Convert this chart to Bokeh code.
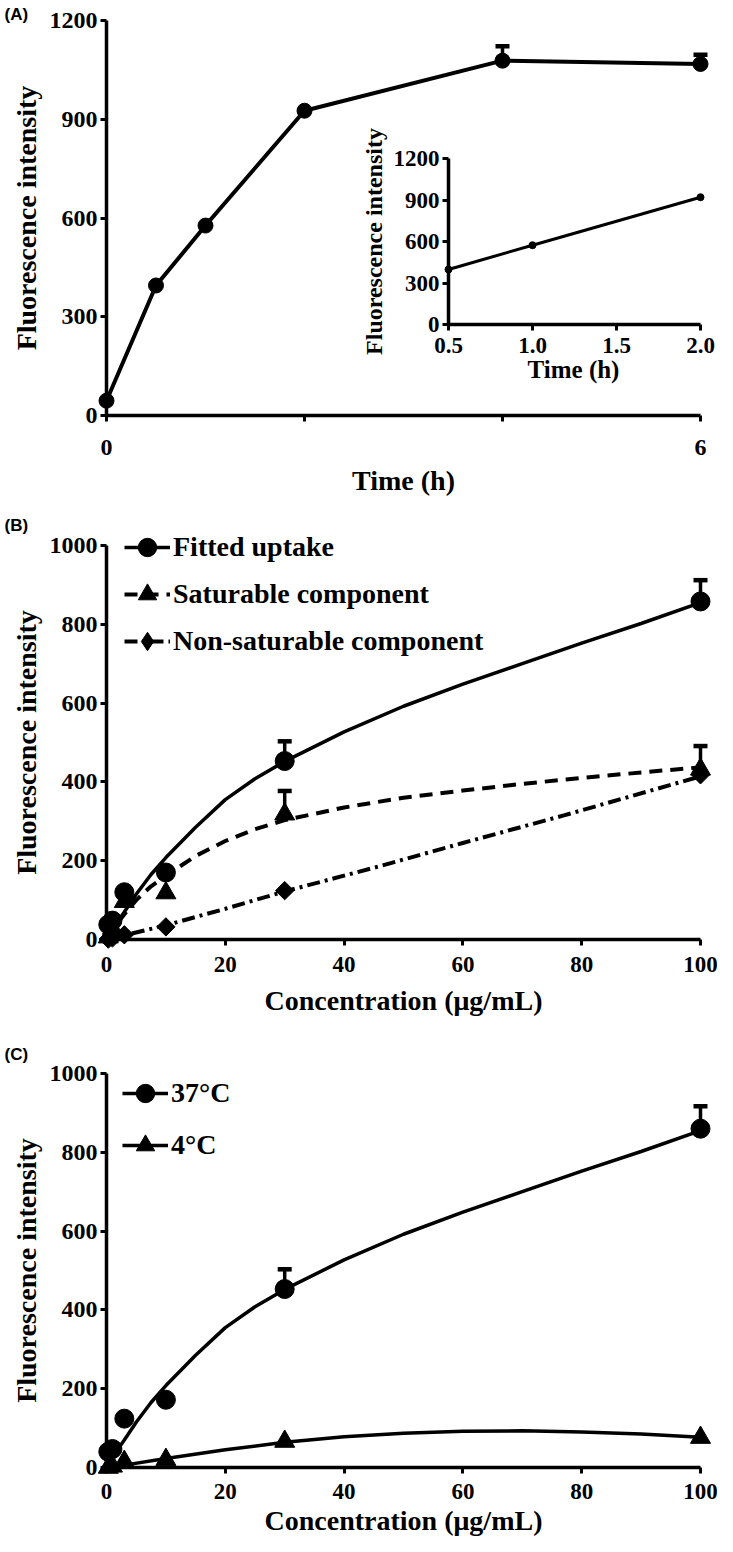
import math
from bokeh.plotting import figure
from bokeh.models import (Range1d, FixedTicker, Label, Legend, LegendItem, Whisker, TeeHead,
                          ColumnDataSource, LinearAxis, Column)
from bokeh.core.properties import value
from bokeh.embed import file_html
from bokeh.resources import INLINE

# ---------------- data ----------------
# Panel A: time course
a_time = [0, 0.5, 1, 2, 4, 6]
a_intensity = [45, 395, 577, 926, 1078, 1068]
a_sem = [0, 0, 0, 0, 44, 28]
a_xticks = [0, 2, 4, 6]
a_xlabel_ticks = [0, 6]
a_xtick_labels = ["0", "6"]
a_yticks = [0, 300, 600, 900, 1200]
a_ytick_labels = ["0", "300", "600", "900", "1200"]

# Panel A inset
inset_time = [0.5, 1.0, 2.0]
inset_intensity = [398, 573, 920]
inset_xticks = [0.5, 1.0, 1.5, 2.0]
inset_xtick_labels = ["0.5", "1.0", "1.5", "2.0"]
inset_yticks = [0, 300, 600, 900, 1200]
inset_ytick_labels = ["0", "300", "600", "900", "1200"]

# Panel B: concentration dependence
conc = [0.3, 1, 3, 10, 30, 100]
fitted_uptake = [38, 48, 120, 170, 453, 858]
fitted_sem = [0, 0, 0, 0, 50, 54]
saturable = [6, 28, 96, 118, 318, 432]
saturable_sem = [0, 0, 0, 0, 59, 59]
nonsaturable = [1, 4, 12, 32, 124, 418]

curve_conc = [0, 1, 2, 3, 5, 7.5, 10, 15, 20, 25, 30, 40, 50, 60, 70, 80, 90, 100]
fitted_curve = [0, 25, 48, 70, 115, 165, 208, 285, 355, 408, 452, 527, 592, 648, 700, 752, 802, 855]
saturable_curve = [0, 22, 44, 64, 100, 135, 162, 212, 250, 280, 303, 335, 360, 378, 395, 410, 424, 437]
nonsat_curve_conc = [0, 10, 20, 30, 45, 60, 77, 100]
nonsat_curve = [0, 36, 78, 122, 182, 245, 315, 414]

# Panel C: temperature dependence
uptake_37 = [40, 47, 124, 172, 453, 860]
uptake_37_sem = [0, 0, 0, 0, 50, 57]
uptake_4 = [0, 3, 15, 20, 66, 76]
curve_37 = [0, 25, 48, 70, 115, 165, 208, 285, 355, 408, 452, 527, 592, 648, 700, 752, 802, 855]
curve_4_conc = [0, 3, 10, 20, 30, 40, 50, 60, 70, 80, 90, 100]
curve_4 = [0, 6, 23, 45, 64, 78, 87, 92, 93, 90, 85, 77]

conc_xticks = [0, 20, 40, 60, 80, 100]
conc_xtick_labels = ["0", "20", "40", "60", "80", "100"]
conc_yticks = [0, 200, 400, 600, 800, 1000]
conc_ytick_labels = ["0", "200", "400", "600", "800", "1000"]

SERIF = "Liberation Serif"
SANS = "Liberation Sans"
W = 717
X0, X1 = 106, 700          # pixel columns of the x-axis ends in every panel


def span_range(p0, p1, v0, v1, total, invert=False):
    """Range whose ends sit on the canvas edges, given pixel p0 for v0 and p1 for v1."""
    if not invert:
        s = (p1 - p0) / (v1 - v0)
        return Range1d(v0 - p0 / s, v1 + (total - p1) / s)
    s = (p0 - p1) / (v1 - v0)
    return Range1d(v0 - (total - p0) / s, v1 + p1 / s)


def to_x(rng, px, total):
    return rng.start + (rng.end - rng.start) * px / total


def to_y(rng, py, total):
    return rng.end - (rng.end - rng.start) * py / total


def make_fig(H, xr, yr):
    p = figure(width=W, height=H, x_range=xr, y_range=yr,
               x_axis_location=None, y_axis_location=None,
               min_border=0, min_border_left=0, min_border_right=0,
               min_border_top=0, min_border_bottom=0,
               output_backend="svg", toolbar_location=None)
    p.outline_line_color = None
    p.grid.visible = False
    return p


def add_axes(p, xticks, yticks, xb, yb, xfix, yfix, xname="default", yname="default"):
    """Axis lines and ticks, placed at the data zero lines (labels are drawn as text)."""
    ya = LinearAxis(x_range_name=xname, y_range_name=yname, fixed_location=yfix, bounds=yb,
                    ticker=FixedTicker(ticks=yticks))
    xa = LinearAxis(x_range_name=xname, y_range_name=yname, fixed_location=xfix, bounds=xb,
                    ticker=FixedTicker(ticks=xticks))
    for ax in (xa, ya):
        ax.axis_line_width = 3.5
        ax.axis_line_color = "black"
        ax.major_tick_line_width = 3
        ax.major_tick_line_color = "black"
        ax.major_tick_in = 6
        ax.major_tick_out = 0
        ax.minor_tick_line_color = None
        ax.major_label_text_color = None
        ax.major_label_text_font_size = "1px"
        ax.major_label_standoff = 0
        ax.axis_label = None
    p.add_layout(ya, "right")
    p.add_layout(xa, "above")


def tick_text(p, xs, ys, labels, align, size="24px", xname="default", yname="default"):
    p.text(x=xs, y=ys, text=labels, text_align=align, text_baseline="middle",
           text_font=value(SERIF), text_font_style="bold", text_font_size=value(size),
           text_color="black", x_range_name=xname, y_range_name=yname)


def add_label(p, x, y, text, size, angle=0.0, font=SERIF, align="center"):
    p.add_layout(Label(x=x, y=y, text=text, angle=angle, text_align=align,
                       text_baseline="middle", text_font=font, text_font_style="bold",
                       text_font_size=size, text_color="black"))


def add_err(p, xs, ys, sems, head=14):
    bx = [x for x, s in zip(xs, sems) if s > 0]
    lo = [y for y, s in zip(ys, sems) if s > 0]
    up = [y + s for y, s in zip(ys, sems) if s > 0]
    src = ColumnDataSource(dict(base=bx, lower=lo, upper=up))
    p.add_layout(Whisker(source=src, base="base", lower="lower", upper="upper",
                         dimension="height", line_width=3.5, line_color="black",
                         upper_head=TeeHead(size=head, line_width=4.5, line_color="black"),
                         lower_head=None))


def legend_for(p, items, loc, spacing):
    lg = Legend(items=items, location=loc, orientation="vertical",
                glyph_width=46, glyph_height=46, spacing=spacing, padding=0, margin=0,
                label_standoff=3, border_line_color=None, background_fill_alpha=0,
                inactive_fill_alpha=0,
                label_text_font=SERIF, label_text_font_style="bold",
                label_text_font_size="28px", label_text_color="black", label_height=30)
    p.add_layout(lg)


# ---------------- Panel A (with inset) ----------------
HA = 507
xrA = span_range(X0, X1, 0, 6, W)
yrA = span_range(415, 20, 0, 1200, HA, invert=True)
pA = make_fig(HA, xrA, yrA)
fxA = lambda px: to_x(xrA, px, W)
fyA = lambda py: to_y(yrA, py, HA)
add_axes(pA, a_xticks, a_yticks, (0, 6), (0, 1200), 0, 0)
tick_text(pA, [fxA(X0 - 9)] * len(a_yticks), a_yticks, a_ytick_labels, "right")
tick_text(pA, a_xlabel_ticks, [fyA(447)] * len(a_xlabel_ticks), a_xtick_labels, "center")
add_err(pA, a_time, a_intensity, a_sem)
pA.line(a_time, a_intensity, line_width=4, color="black", line_join="round")
pA.scatter(a_time, a_intensity, size=15, color="black", marker="circle")
add_label(pA, fxA(25.5), fyA(217.5), "Fluorescence intensity", "28px", angle=math.pi / 2)
add_label(pA, fxA(403), fyA(480), "Time (h)", "28px")
add_label(pA, fxA(4), fyA(14), "(A)", "17px", font=SANS, align="left")

# inset drawn on its own ranges inside panel A
ixr = span_range(448, X1, 0.5, 2.0, W)
iyr = span_range(324, 158, 0, 1200, HA, invert=True)
pA.extra_x_ranges = {"ix": ixr}
pA.extra_y_ranges = {"iy": iyr}
fyI = lambda py: to_y(iyr, py, HA)
fxI = lambda px: to_x(ixr, px, W)
add_axes(pA, inset_xticks, inset_yticks, (0.5, 2.0), (0, 1200), 0, 0.5, "ix", "iy")
tick_text(pA, [fxI(439)] * len(inset_yticks), inset_yticks, inset_ytick_labels, "right",
          size="23px", xname="ix", yname="iy")
tick_text(pA, inset_xticks, [fyI(345)] * len(inset_xticks), inset_xtick_labels, "center",
          size="23px", xname="ix", yname="iy")
pA.line(inset_time, inset_intensity, line_width=3, color="black", x_range_name="ix", y_range_name="iy")
pA.scatter(inset_time, inset_intensity, size=7, color="black", marker="circle",
           x_range_name="ix", y_range_name="iy")
add_label(pA, fxA(373), fyA(241), "Fluorescence intensity", "24px", angle=math.pi / 2)
add_label(pA, fxA(573), fyA(369), "Time (h)", "25px")

# ---------------- Panel B ----------------
HB = 530
xrB = span_range(X0, X1, 0, 100, W)
yrB = span_range(432, 38, 0, 1000, HB, invert=True)
pB = make_fig(HB, xrB, yrB)
fxB = lambda px: to_x(xrB, px, W)
fyB = lambda py: to_y(yrB, py, HB)
add_axes(pB, conc_xticks, conc_yticks, (0, 100), (0, 1000), 0, 0)
tick_text(pB, [fxB(X0 - 9)] * len(conc_yticks), conc_yticks, conc_ytick_labels, "right")
tick_text(pB, conc_xticks, [fyB(457)] * len(conc_xticks), conc_xtick_labels, "center", size="23px")
add_err(pB, conc, fitted_uptake, fitted_sem)
add_err(pB, conc, saturable, saturable_sem)
l1 = pB.line(curve_conc, fitted_curve, line_width=3.5, color="black")
l2 = pB.line(curve_conc, saturable_curve, line_width=4, color="black", line_dash="13 8")
l3 = pB.line(nonsat_curve_conc, nonsat_curve, line_width=4, color="black", line_dash="13 5 3 5")
pB.scatter(conc, nonsaturable, size=13, color="black", marker="square", angle=math.pi / 4)
s3 = pB.scatter(conc, nonsaturable, size=21, color="black", marker="diamond", visible=False)
s2 = pB.scatter(conc, saturable, size=20, color="black", marker="triangle")
s1 = pB.scatter(conc, fitted_uptake, size=19, color="black", marker="circle")
legend_for(pB, [LegendItem(label="Fitted uptake", renderers=[l1, s1]),
                LegendItem(label="Saturable component", renderers=[l2, s2]),
                LegendItem(label="Non-saturable component", renderers=[l3, s3])],
           (124, HB - 157), 1)
add_label(pB, fxB(25.5), fyB(235), "Fluorescence intensity", "28px", angle=math.pi / 2)
add_label(pB, fxB(403), fyB(493), "Concentration (\u03bcg/mL)", "28px")
add_label(pB, fxB(4), fyB(18), "(B)", "17px", font=SANS, align="left")

# ---------------- Panel C ----------------
HC = 499
xrC = span_range(X0, X1, 0, 100, W)
yrC = span_range(430, 36, 0, 1000, HC, invert=True)
pC = make_fig(HC, xrC, yrC)
fxC = lambda px: to_x(xrC, px, W)
fyC = lambda py: to_y(yrC, py, HC)
add_axes(pC, conc_xticks, conc_yticks, (0, 100), (0, 1000), 0, 0)
tick_text(pC, [fxC(X0 - 9)] * len(conc_yticks), conc_yticks, conc_ytick_labels, "right")
tick_text(pC, conc_xticks, [fyC(454)] * len(conc_xticks), conc_xtick_labels, "center", size="23px")
add_err(pC, conc, uptake_37, uptake_37_sem)
c1 = pC.line(curve_conc, curve_37, line_width=3.5, color="black")
c2 = pC.line(curve_4_conc, curve_4, line_width=3.5, color="black")
t2 = pC.scatter(conc, uptake_4, size=20, color="black", marker="triangle")
t1 = pC.scatter(conc, uptake_37, size=19, color="black", marker="circle")
legend_for(pC, [LegendItem(label="37\u00b0C", renderers=[c1, t1]),
                LegendItem(label="4\u00b0C", renderers=[c2, t2])],
           (122, HC - 131), 6)
add_label(pC, fxC(25.5), fyC(233), "Fluorescence intensity", "28px", angle=math.pi / 2)
add_label(pC, fxC(403), fyC(483), "Concentration (\u03bcg/mL)", "28px")
add_label(pC, fxC(4), fyC(17), "(C)", "17px", font=SANS, align="left")

layout = Column(children=[pA, pB, pC], spacing=0)

open("out.html", "w").write(file_html(layout, INLINE))
